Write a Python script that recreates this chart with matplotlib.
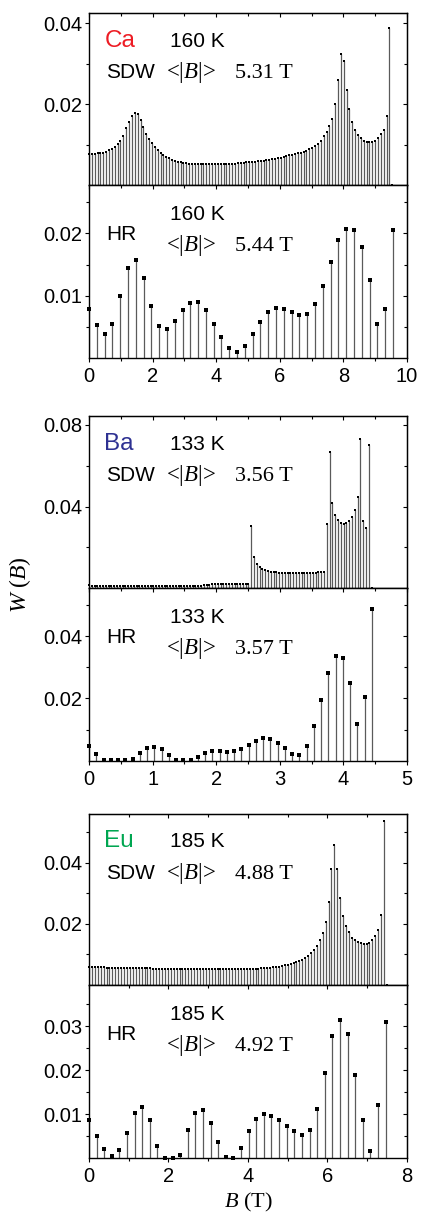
import numpy as np
import matplotlib
matplotlib.use("Agg")
import matplotlib.pyplot as plt
from matplotlib.ticker import FixedLocator, MultipleLocator, FormatStrFormatter

plt.rcParams['font.family'] = 'Liberation Sans'
plt.rcParams['mathtext.fontset'] = 'custom'
plt.rcParams['mathtext.rm'] = 'Liberation Serif'
plt.rcParams['mathtext.it'] = 'Liberation Serif:italic'

# ---- field distributions W(B) ----
# Ca, 160 K
ca_sdw_step = 0.09
ca_sdw_w = [0.0076, 0.0077, 0.0077, 0.0078, 0.0079, 0.0080, 0.0082, 0.0086, 0.0090, 0.0095,
            0.0101, 0.0110, 0.0122, 0.0140, 0.0155, 0.0170, 0.0177, 0.0176, 0.0160, 0.0143,
            0.0127, 0.0114, 0.0103, 0.0094, 0.0087, 0.0080, 0.0075, 0.0070, 0.0066, 0.0063,
            0.0060, 0.0058, 0.0056, 0.0055, 0.0054, 0.0053, 0.0053, 0.0052, 0.0052, 0.0052,
            0.0052, 0.0052, 0.0052, 0.0052, 0.0052, 0.0052, 0.0052, 0.0052, 0.0052, 0.0053,
            0.0053, 0.0053, 0.0054, 0.0054, 0.0055, 0.0056, 0.0056, 0.0057, 0.0058, 0.0059,
            0.0059, 0.0060, 0.0061, 0.0062, 0.0064, 0.0065, 0.0066, 0.0068, 0.0070, 0.0072,
            0.0073, 0.0075, 0.0077, 0.0079, 0.0080, 0.0082, 0.0085, 0.0088, 0.0092, 0.0096,
            0.0101, 0.0110, 0.0120, 0.0130, 0.0145, 0.0163, 0.0200, 0.0259, 0.0323, 0.0306,
            0.0236, 0.0187, 0.0156, 0.0136, 0.0123, 0.0115, 0.0109, 0.0107, 0.0106, 0.0107,
            0.0110, 0.0116, 0.0125, 0.0137, 0.0170, 0.0389, 0.0000]
ca_hr_step = 0.2451
ca_hr_w = [0.0079, 0.0052, 0.0038, 0.0054, 0.0099, 0.0145, 0.0157, 0.0128, 0.0083, 0.0051,
           0.0046, 0.0059, 0.0076, 0.0088, 0.0089, 0.0077, 0.0055, 0.0033, 0.0016, 0.0009,
           0.0019, 0.0038, 0.0058, 0.0073, 0.0080, 0.0079, 0.0073, 0.0069, 0.0071, 0.0087,
           0.0115, 0.0154, 0.0189, 0.0207, 0.0205, 0.0178, 0.0125, 0.0054, 0.0079, 0.0205]

# Ba, 133 K
ba_sdw_step = 0.044
ba_sdw_w = [0.0014, 0.0013, 0.0013, 0.0013, 0.0013, 0.0013, 0.0013, 0.0013, 0.0013, 0.0013,
            0.0013, 0.0013, 0.0013, 0.0013, 0.0013, 0.0013, 0.0013, 0.0013, 0.0013, 0.0013,
            0.0013, 0.0013, 0.0013, 0.0013, 0.0013, 0.0013, 0.0013, 0.0013, 0.0013, 0.0013,
            0.0013, 0.0013, 0.0013, 0.0013, 0.0013, 0.0013, 0.0013, 0.0013, 0.0013, 0.0013,
            0.0013, 0.0014, 0.0014, 0.0015, 0.0022, 0.0022, 0.0022, 0.0022, 0.0022, 0.0022,
            0.0022, 0.0022, 0.0022, 0.0022, 0.0022, 0.0022, 0.0022, 0.0023, 0.0305, 0.0153,
            0.0119, 0.0106, 0.0096, 0.0090, 0.0085, 0.0081, 0.0079, 0.0078, 0.0077, 0.0077,
            0.0077, 0.0077, 0.0077, 0.0077, 0.0077, 0.0077, 0.0077, 0.0077, 0.0077, 0.0077,
            0.0077, 0.0077, 0.0078, 0.0080, 0.0082, 0.0315, 0.0666, 0.0416, 0.0359, 0.0334,
            0.0321, 0.0315, 0.0321, 0.0331, 0.0348, 0.0382, 0.0446, 0.0731, 0.0330, 0.0295,
            0.0700, 0.0000]
ba_hr_step = 0.1141
ba_hr_w = [0.0048, 0.0022, 0.0002, 0.0002, 0.0002, 0.0002, 0.0004, 0.0026, 0.0042, 0.0045,
           0.0036, 0.0018, 0.0003, 0.0001, 0.0001, 0.0013, 0.0024, 0.0031, 0.0031, 0.0029,
           0.0031, 0.0039, 0.0051, 0.0064, 0.0072, 0.0071, 0.0058, 0.0040, 0.0020, 0.0019,
           0.0048, 0.0110, 0.0196, 0.0282, 0.0337, 0.0330, 0.0248, 0.0119, 0.0205, 0.0488]

# Eu, 185 K
eu_sdw_step = 0.0735
eu_sdw_w = [0.0058, 0.0058, 0.0058, 0.0058, 0.0058, 0.0058, 0.0057, 0.0057, 0.0057, 0.0057,
            0.0057, 0.0057, 0.0057, 0.0056, 0.0056, 0.0056, 0.0056, 0.0056, 0.0056, 0.0055,
            0.0055, 0.0055, 0.0054, 0.0053, 0.0052, 0.0051, 0.0051, 0.0051, 0.0051, 0.0051,
            0.0051, 0.0051, 0.0051, 0.0051, 0.0051, 0.0051, 0.0051, 0.0051, 0.0051, 0.0051,
            0.0051, 0.0051, 0.0051, 0.0051, 0.0051, 0.0051, 0.0051, 0.0051, 0.0051, 0.0051,
            0.0051, 0.0051, 0.0051, 0.0052, 0.0052, 0.0053, 0.0053, 0.0054, 0.0054, 0.0055,
            0.0055, 0.0056, 0.0057, 0.0058, 0.0059, 0.0060, 0.0062, 0.0064, 0.0066, 0.0068,
            0.0071, 0.0074, 0.0078, 0.0083, 0.0088, 0.0096, 0.0105, 0.0115, 0.0128, 0.0146,
            0.0170, 0.0208, 0.0271, 0.0379, 0.0458, 0.0381, 0.0284, 0.0227, 0.0194, 0.0172,
            0.0155, 0.0147, 0.0142, 0.0138, 0.0135, 0.0135, 0.0139, 0.0148, 0.0161, 0.0181,
            0.0230, 0.0537, 0.0000]
eu_hr_step = 0.1913
eu_hr_w = [0.0086, 0.0051, 0.0021, 0.0006, 0.0019, 0.0058, 0.0102, 0.0117, 0.0086, 0.0027,
           0.0001, 0.0001, 0.0008, 0.0064, 0.0104, 0.0110, 0.0081, 0.0036, 0.0004, 0.0001,
           0.0024, 0.0061, 0.0089, 0.0101, 0.0096, 0.0086, 0.0074, 0.0061, 0.0053, 0.0065,
           0.0113, 0.0195, 0.0278, 0.0315, 0.0282, 0.0190, 0.0086, 0.0017, 0.0120, 0.0310]

element_names = ['Ca', 'Ba', 'Eu']
element_colors = ['#ed1c24', '#2e3192', '#00a651']
temperatures = ['160 K', '133 K', '185 K']
mean_fields = [('5.31 T', '5.44 T'), ('3.56 T', '3.57 T'), ('4.88 T', '4.92 T')]

# ---- layout ----
fig = plt.figure(figsize=(4.21, 12.15), dpi=100)
left, width = 0.2114, 0.7553
rects = [(0.8477, 0.1416), (0.7056, 0.1421),
         (0.5158, 0.1418), (0.3739, 0.1419),
         (0.1893, 0.1407), (0.0467, 0.1426)]

stem_color = '#5a5a5a'
tick_size = 14.5


def style_axes(ax, xmax, ymax, xmaj, xmin, ymaj, ymin, xlabels):
    ax.set_xlim(0, xmax)
    ax.set_ylim(0, ymax)
    for s in ax.spines.values():
        s.set_linewidth(1.0)
    ax.xaxis.set_major_locator(MultipleLocator(xmaj))
    ax.xaxis.set_minor_locator(MultipleLocator(xmin))
    ax.yaxis.set_major_locator(FixedLocator(ymaj))
    ax.yaxis.set_minor_locator(FixedLocator(ymin))
    ax.yaxis.set_major_formatter(FormatStrFormatter('%.2f'))
    ax.xaxis.set_major_formatter(FormatStrFormatter('%d'))
    ax.tick_params(which='major', direction='out', length=3.2, width=0.8,
                   labelsize=tick_size, labelbottom=xlabels)
    ax.tick_params(axis='y', which='major', pad=1.5)
    ax.tick_params(axis='x', which='major', pad=3.2)
    ax.tick_params(which='minor', direction='out', length=2.0, width=0.8)
    # mirrored ticks pointing inwards on top and right
    top = ax.secondary_xaxis('top')
    top.xaxis.set_major_locator(MultipleLocator(xmaj))
    top.xaxis.set_minor_locator(MultipleLocator(xmin))
    top.tick_params(which='major', direction='in', length=3.2, width=0.8, labeltop=False)
    top.tick_params(which='minor', direction='in', length=2.0, width=0.8)
    right = ax.secondary_yaxis('right')
    right.yaxis.set_major_locator(FixedLocator(ymaj))
    right.yaxis.set_minor_locator(FixedLocator(ymin))
    right.tick_params(which='major', direction='in', length=3.2, width=0.8, labelright=False)
    right.tick_params(which='minor', direction='in', length=2.0, width=0.8)


def draw_stems(ax, step, w, ms):
    w = np.asarray(w)
    b = np.arange(len(w)) * step
    ax.vlines(b, 0, w, color=stem_color, lw=0.9, zorder=2)
    ax.plot(b, w, 's', color='k', ms=ms, mew=0, clip_on=False, zorder=3)


panels = [
    (ca_sdw_step, ca_sdw_w, ca_hr_step, ca_hr_w, 10, 2, 1,
     (0.0425, [0.02, 0.04], [0.01, 0.03]),
     (0.0278, [0.01, 0.02], [0.005, 0.015, 0.025])),
    (ba_sdw_step, ba_sdw_w, ba_hr_step, ba_hr_w, 5, 1, 0.5,
     (0.0844, [0.04, 0.08], [0.02, 0.06]),
     (0.0553, [0.02, 0.04], [0.01, 0.03, 0.05])),
    (eu_sdw_step, eu_sdw_w, eu_hr_step, eu_hr_w, 8, 2, 1,
     (0.056, [0.02, 0.04], [0.01, 0.03, 0.05]),
     (0.0394, [0.01, 0.02, 0.03], [0.005, 0.015, 0.025, 0.035])),
]

serif = 'Liberation Serif'
for i, (s_step, s_w, h_step, h_w, xmax, xmaj, xmin, s_y, h_y) in enumerate(panels):
    ax_s = fig.add_axes([left, rects[2 * i][0], width, rects[2 * i][1]])
    ax_h = fig.add_axes([left, rects[2 * i + 1][0], width, rects[2 * i + 1][1]])

    draw_stems(ax_s, s_step, s_w, 2.0)
    draw_stems(ax_h, h_step, h_w, 2.8)
    style_axes(ax_s, xmax, s_y[0], xmaj, xmin, s_y[1], s_y[2], False)
    style_axes(ax_h, xmax, h_y[0], xmaj, xmin, h_y[1], h_y[2], True)

    # SDW panel annotations
    ax_s.text(0.048, 0.805, element_names[i], color=element_colors[i], fontsize=17.5,
              transform=ax_s.transAxes)
    ax_s.text(0.255, 0.805, temperatures[i], fontsize=15, transform=ax_s.transAxes)
    ax_s.text(0.053, 0.622, 'SDW', fontsize=15, transform=ax_s.transAxes)
    ax_s.text(0.243, 0.622, r'<|$B$|>', fontsize=16.5, family=serif, transform=ax_s.transAxes)
    ax_s.text(0.459, 0.622, mean_fields[i][0], fontsize=16, family=serif,
              transform=ax_s.transAxes)

    # HR panel annotations
    ax_h.text(0.255, 0.800, temperatures[i], fontsize=15, transform=ax_h.transAxes)
    ax_h.text(0.055, 0.684, 'HR', fontsize=15, transform=ax_h.transAxes)
    ax_h.text(0.243, 0.617, r'<|$B$|>', fontsize=16.5, family=serif, transform=ax_h.transAxes)
    ax_h.text(0.459, 0.617, mean_fields[i][1], fontsize=16, family=serif,
              transform=ax_h.transAxes)

fig.text(0.048, 0.519, r'$W\ (B)$', rotation=90, fontsize=17, ha='center', va='center')
fig.text(0.589, 0.0006, r'$B$ (T)', fontsize=16, family=serif, ha='center', va='bottom')

fig.savefig('out.png', dpi=100)
